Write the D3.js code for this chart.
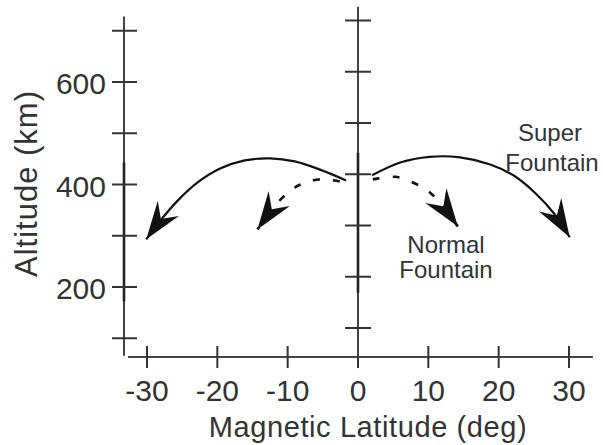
<!DOCTYPE html>
<html>
<head>
<meta charset="utf-8">
<script src="https://cdn.jsdelivr.net/npm/d3@7"></script>
<style>
  html, body { margin: 0; padding: 0; background: #fff; }
  svg { display: block; }
  text { font-family: "Liberation Sans", Arial, Helvetica, sans-serif; fill: #333; }
</style>
</head>
<body>
<svg id="chart" width="603" height="445"></svg>
<script>
// Magnetic latitude ticks (deg) and altitude ticks (km)
const latTicks = [-30, -20, -10, 0, 10, 20, 30];
const altTicks = [100, 200, 300, 400, 500, 600, 700];
const altLabels = [200, 400, 600];
// the equatorial ladder has its own tick marks
const equatorTicks = [120, 220, 320, 420, 520, 620, 720];

// Ion trajectories: [latitude (deg), altitude (km)]
const superNorth = [[2, 418], [6, 443], [10.2, 454], [14.5, 453], [18.8, 439], [22.3, 416], [25.3, 382], [27.9, 343], [30.1, 297]];
const superSouth = [[-1.7, 408], [-5.4, 429], [-9, 445], [-12.5, 451], [-16.1, 447], [-19.6, 431], [-22.8, 404], [-25.6, 369], [-28.2, 328], [-30.1, 293]];
const normalNorth = [[2.1, 410], [5.3, 415], [8.1, 402], [10.5, 381], [14.2, 318]];
const normalSouth = [[-2.6, 406], [-5.4, 410], [-8.2, 400], [-10.7, 375], [-14.3, 312]];

const svg = d3.select("#chart");

const x = d3.scaleLinear().domain([-30, 30]).range([147, 569]);
const y = d3.scaleLinear().domain([200, 600]).range([287, 82]);

const axisColor = "#444";
const tickColor = "#333";

// arrowhead marker (notched, filled)
const defs = svg.append("defs");
defs.append("marker")
  .attr("id", "head")
  .attr("markerUnits", "userSpaceOnUse")
  .attr("viewBox", "-40 -16 42 32")
  .attr("markerWidth", 42)
  .attr("markerHeight", 32)
  .attr("refX", 0)
  .attr("refY", 0)
  .attr("orient", "auto")
  .append("path")
  .attr("d", "M0,0 L-38,-13 L-25,0 L-38,13 Z")
  .attr("fill", "#111")
  .attr("stroke", "none");

// left (altitude) axis
const leftX = 124;
svg.append("line")
  .attr("x1", leftX).attr("x2", leftX)
  .attr("y1", y(728)).attr("y2", y(66))
  .attr("stroke", axisColor).attr("stroke-width", 2);
svg.append("line")
  .attr("x1", leftX).attr("x2", leftX)
  .attr("y1", y(443)).attr("y2", y(172))
  .attr("stroke", "#222").attr("stroke-width", 2.6);
svg.selectAll(".ltick").data(altTicks).join("line")
  .attr("class", "ltick")
  .attr("x1", leftX - 12).attr("x2", leftX + 13)
  .attr("y1", d => y(d)).attr("y2", d => y(d))
  .attr("stroke", tickColor).attr("stroke-width", 2);
svg.selectAll(".llab").data(altLabels).join("text")
  .attr("class", "llab")
  .attr("x", 106)
  .attr("y", d => y(d) + 12)
  .attr("text-anchor", "end")
  .attr("font-size", 30)
  .text(d => d);

// bottom (latitude) axis
const axisY = 357;
svg.append("line")
  .attr("x1", x(-32.7)).attr("x2", x(33.4))
  .attr("y1", axisY).attr("y2", axisY)
  .attr("stroke", axisColor).attr("stroke-width", 2);
svg.selectAll(".btick").data(latTicks).join("line")
  .attr("class", "btick")
  .attr("x1", d => x(d)).attr("x2", d => x(d))
  .attr("y1", axisY - 11).attr("y2", axisY + 11)
  .attr("stroke", tickColor).attr("stroke-width", 2);
svg.selectAll(".blab").data(latTicks).join("text")
  .attr("class", "blab")
  .attr("x", d => x(d))
  .attr("y", 401)
  .attr("text-anchor", "middle")
  .attr("font-size", 30)
  .text(d => d);

// equator ladder at 0 deg
const eqX = x(0);
svg.append("line")
  .attr("x1", eqX).attr("x2", eqX)
  .attr("y1", y(747)).attr("y2", axisY)
  .attr("stroke", axisColor).attr("stroke-width", 2);
svg.append("line")
  .attr("x1", eqX).attr("x2", eqX)
  .attr("y1", y(462)).attr("y2", y(189))
  .attr("stroke", "#222").attr("stroke-width", 2.6);
svg.selectAll(".etick").data(equatorTicks).join("line")
  .attr("class", "etick")
  .attr("x1", eqX - 13).attr("x2", eqX + 13)
  .attr("y1", d => y(d)).attr("y2", d => y(d))
  .attr("stroke", tickColor).attr("stroke-width", 2);

// axis titles
svg.append("text")
  .attr("x", 368)
  .attr("y", 437)
  .attr("text-anchor", "middle")
  .attr("font-size", 29)
  .attr("letter-spacing", 0.6)
  .text("Magnetic Latitude (deg)");
svg.append("text")
  .attr("transform", "translate(36.5,183.5) rotate(-90)")
  .attr("text-anchor", "middle")
  .attr("font-size", 31)
  .attr("letter-spacing", 1)
  .text("Altitude (km)");

// trajectories
const path = d3.line()
  .x(d => x(d[0]))
  .y(d => y(d[1]))
  .curve(d3.curveCatmullRom.alpha(0.5));

[superNorth, superSouth].forEach(pts => {
  svg.append("path")
    .attr("d", path(pts))
    .attr("fill", "none")
    .attr("stroke", "#111")
    .attr("stroke-width", 2.2)
    .attr("marker-end", "url(#head)");
});
[normalNorth, normalSouth].forEach(pts => {
  svg.append("path")
    .attr("d", path(pts))
    .attr("fill", "none")
    .attr("stroke", "#111")
    .attr("stroke-width", 2.6)
    .attr("stroke-dasharray", "7,13")
    .attr("marker-end", "url(#head)");
});

// annotations
const labelSize = 24;
svg.append("text").attr("x", 550).attr("y", 141)
  .attr("text-anchor", "middle").attr("font-size", labelSize).text("Super");
svg.append("text").attr("x", 552).attr("y", 171)
  .attr("text-anchor", "middle").attr("font-size", labelSize).text("Fountain");
svg.append("text").attr("x", 446).attr("y", 253)
  .attr("text-anchor", "middle").attr("font-size", labelSize).text("Normal");
svg.append("text").attr("x", 446).attr("y", 278)
  .attr("text-anchor", "middle").attr("font-size", labelSize).text("Fountain");
</script>
</body>
</html>
